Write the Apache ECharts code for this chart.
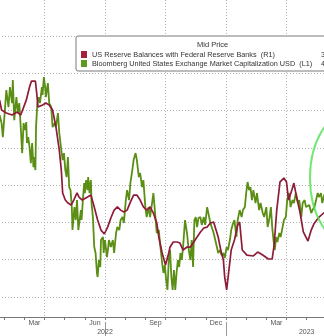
<!DOCTYPE html>
<html><head><meta charset="utf-8">
<script src="https://cdn.jsdelivr.net/npm/echarts@6/dist/echarts.min.js"></script>
<style>html,body{margin:0;padding:0;background:#fff}#c{width:324px;height:336px}</style>
</head><body><div id="c"></div>
<script>
// ---- data ----
const redName = 'US Reserve Balances with Federal Reserve Banks  (R1)';
const greenName = 'Bloomberg United States Exchange Market Capitalization USD  (L1)';
const redLast = '3.256T';
const greenLast = '44.47T';

const greenDates = ['2022-01-25','2022-01-28','2022-01-30','2022-02-02','2022-02-04','2022-02-07','2022-02-09','2022-02-12','2022-02-13','2022-02-15','2022-02-18','2022-02-20','2022-02-22','2022-02-24','2022-02-26','2022-02-28','2022-03-02','2022-03-04','2022-03-05','2022-03-07','2022-03-09','2022-03-11','2022-03-13','2022-03-15','2022-03-16','2022-03-18','2022-03-19','2022-03-21','2022-03-23','2022-03-25','2022-03-28','2022-03-29','2022-03-31','2022-04-02','2022-04-03','2022-04-06','2022-04-08','2022-04-11','2022-04-13','2022-04-16','2022-04-18','2022-04-21','2022-04-23','2022-04-26','2022-04-28','2022-04-30','2022-05-02','2022-05-04','2022-05-06','2022-05-08','2022-05-10','2022-05-12','2022-05-13','2022-05-16','2022-05-18','2022-05-20','2022-05-22','2022-05-23','2022-05-26','2022-05-27','2022-05-29','2022-05-31','2022-06-01','2022-06-03','2022-06-05','2022-06-06','2022-06-08','2022-06-10','2022-06-11','2022-06-13','2022-06-15','2022-06-17','2022-06-19','2022-06-20','2022-06-22','2022-06-24','2022-06-25','2022-06-28','2022-06-29','2022-07-01','2022-07-04','2022-07-06','2022-07-07','2022-07-10','2022-07-13','2022-07-15','2022-07-18','2022-07-20','2022-07-23','2022-07-25','2022-07-28','2022-07-30','2022-08-02','2022-08-04','2022-08-07','2022-08-09','2022-08-12','2022-08-14','2022-08-17','2022-08-19','2022-08-22','2022-08-24','2022-08-27','2022-08-29','2022-09-01','2022-09-03','2022-09-06','2022-09-08','2022-09-11','2022-09-13','2022-09-16','2022-09-18','2022-09-21','2022-09-23','2022-09-26','2022-09-28','2022-09-30','2022-10-02','2022-10-04','2022-10-06','2022-10-08','2022-10-10','2022-10-12','2022-10-14','2022-10-16','2022-10-18','2022-10-20','2022-10-22','2022-10-24','2022-10-26','2022-10-28','2022-10-31','2022-11-03','2022-11-05','2022-11-08','2022-11-10','2022-11-12','2022-11-14','2022-11-16','2022-11-18','2022-11-20','2022-11-23','2022-11-25','2022-11-28','2022-11-30','2022-12-03','2022-12-05','2022-12-08','2022-12-10','2022-12-13','2022-12-15','2022-12-18','2022-12-20','2022-12-23','2022-12-25','2022-12-28','2022-12-30','2023-01-02','2023-01-04','2023-01-07','2023-01-09','2023-01-12','2023-01-14','2023-01-17','2023-01-19','2023-01-22','2023-01-25','2023-01-27','2023-01-30','2023-02-01','2023-02-03','2023-02-05','2023-02-07','2023-02-09','2023-02-11','2023-02-14','2023-02-16','2023-02-19','2023-02-21','2023-02-24','2023-02-26','2023-03-01','2023-03-03','2023-03-06','2023-03-08','2023-03-10','2023-03-12','2023-03-14','2023-03-16','2023-03-18','2023-03-21','2023-03-23','2023-03-26','2023-03-28','2023-03-31','2023-04-02','2023-04-05','2023-04-07','2023-04-10','2023-04-12','2023-04-15','2023-04-18','2023-04-20','2023-04-23','2023-04-25','2023-04-28','2023-04-30','2023-05-03','2023-05-05','2023-05-08','2023-05-10','2023-05-13','2023-05-15','2023-05-18','2023-05-20','2023-05-23','2023-05-25','2023-05-28','2023-05-30'];
const greenValues = [49.70,49.16,48.22,50.03,51.37,50.23,51.57,50.50,52.04,49.36,50.90,49.83,50.50,48.89,47.15,49.16,48.69,49.23,47.82,48.22,47.55,46.48,47.82,46.21,46.88,46.01,48.89,50.50,50.90,50.50,51.57,51.04,52.24,51.57,50.90,51.84,50.50,50.23,48.89,49.16,48.89,49.83,48.49,47.35,46.68,47.15,46.01,45.54,46.88,44.87,44.67,43.53,41.99,43.53,42.66,44.00,41.99,42.12,43.33,42.66,44.00,45.14,44.47,45.34,44.67,45.54,44.47,45.34,43.80,42.86,40.85,40.45,39.11,38.84,39.98,39.51,41.32,41.52,40.45,41.32,40.18,40.85,41.32,40.85,41.32,40.45,41.79,42.19,41.99,42.66,42.86,42.46,44.00,44.67,44.00,45.14,46.01,46.68,47.15,46.68,45.54,45.81,44.87,45.34,43.53,42.86,43.53,42.86,43.80,44.47,42.86,41.79,41.99,41.05,39.78,39.11,39.64,38.64,37.97,39.98,40.65,38.84,37.97,39.31,37.97,39.11,39.98,39.51,40.45,39.98,40.85,42.66,41.79,40.85,39.98,41.32,39.51,42.66,42.86,42.19,42.79,42.86,42.33,42.86,42.33,43.53,43.53,42.46,42.19,41.79,41.79,40.85,40.45,40.65,40.31,40.45,40.11,40.85,40.65,41.32,41.99,42.46,42.66,41.52,42.66,43.33,42.86,43.33,43.53,44.47,45.21,44.67,44.87,44.00,44.67,43.80,44.47,43.33,43.80,43.13,42.86,43.53,42.19,42.86,43.53,42.19,41.32,40.65,41.52,41.19,41.79,41.52,42.19,42.66,42.86,44.00,44.47,43.53,44.00,43.80,44.47,43.80,44.00,42.86,43.80,44.00,43.53,43.53,43.67,43.13,43.33,43.53,43.53,44.47,44.20,44.47,43.80,44.34,44.47];

const redDates = ['2022-01-25','2022-01-28','2022-02-04','2022-02-12','2022-02-19','2022-02-24','2022-03-04','2022-03-09','2022-03-12','2022-03-18','2022-03-20','2022-03-22','2022-03-25','2022-03-29','2022-04-03','2022-04-08','2022-04-13','2022-04-18','2022-04-23','2022-04-26','2022-04-28','2022-05-02','2022-05-06','2022-05-11','2022-05-15','2022-05-20','2022-05-23','2022-05-28','2022-06-05','2022-06-10','2022-06-15','2022-06-20','2022-06-25','2022-06-30','2022-07-05','2022-07-10','2022-07-15','2022-07-20','2022-07-25','2022-07-30','2022-08-04','2022-08-09','2022-08-14','2022-08-19','2022-08-24','2022-08-29','2022-09-03','2022-09-08','2022-09-13','2022-09-18','2022-09-21','2022-09-26','2022-10-01','2022-10-03','2022-10-06','2022-10-08','2022-10-13','2022-10-19','2022-10-23','2022-10-28','2022-11-03','2022-11-08','2022-11-13','2022-11-18','2022-11-23','2022-11-28','2022-12-03','2022-12-08','2022-12-13','2022-12-15','2022-12-20','2022-12-23','2022-12-25','2022-12-28','2022-12-30','2023-01-02','2023-01-05','2023-01-09','2023-01-14','2023-01-19','2023-01-22','2023-01-26','2023-02-02','2023-02-11','2023-02-17','2023-02-24','2023-03-04','2023-03-10','2023-03-13','2023-03-17','2023-03-22','2023-03-28','2023-04-01','2023-04-04','2023-04-09','2023-04-12','2023-04-16','2023-04-21','2023-04-26','2023-05-03','2023-05-08','2023-05-12','2023-05-20','2023-05-29'];
const redValues = [3.856,3.803,3.787,3.776,3.792,3.776,3.856,3.926,3.958,3.958,3.894,3.819,3.813,3.830,3.840,3.830,3.803,3.712,3.588,3.481,3.358,3.320,3.304,3.293,3.320,3.358,3.336,3.320,3.336,3.347,3.283,3.213,3.159,3.138,3.175,3.224,3.266,3.283,3.266,3.256,3.266,3.309,3.347,3.347,3.320,3.283,3.266,3.283,3.250,3.197,3.122,3.036,2.972,2.982,3.036,3.068,3.095,3.095,3.090,3.052,3.068,3.068,3.095,3.122,3.149,3.170,3.175,3.197,3.202,3.197,3.122,3.068,3.036,2.998,2.907,2.838,2.929,3.052,3.106,3.186,3.202,3.052,3.025,3.020,3.041,3.025,3.004,3.004,3.079,3.266,3.417,3.438,3.417,3.320,3.374,3.411,3.336,3.256,3.149,3.100,3.159,3.191,3.229,3.256];

const monthLabels = {2.5:'Mar',5.5:'Jun',8.5:'Sep',11.5:'Dec',14.5:'Mar',17.5:'Jun'};
const yearLabels = {6:'2022',16:'2023'};

// ---- helpers ----
function monthIndex(s){
  const [y,m,d] = s.split('-').map(Number);
  const dim = new Date(y, m, 0).getDate();
  return (y-2022)*12 + (m-1) + (d-1)/dim;
}
const greenData = greenDates.map((d,i)=>[monthIndex(d), greenValues[i]]);
const redData = redDates.map((d,i)=>[monthIndex(d), redValues[i]]);

const FONT = 'Liberation Sans';
const RED = '#8e1b38', GREEN = '#5b8e14';
const gridDash = {color:'#b4b4b4', width:1, type:[1,2]};
const X0 = {min:0, max:18};

const chart = echarts.init(document.getElementById('c'), null, {renderer:'canvas'});
chart.setOption({
  animation:false,
  backgroundColor:'#fff',
  textStyle:{fontFamily:FONT},
  grid:[
    {left:-16, width:363, top:-1.3, height:335.6, outerBoundsMode:'none', containLabel:false},
    {left:-16, width:363, top:0, height:317, outerBoundsMode:'none', containLabel:false}
  ],
  xAxis:[
    Object.assign({type:'value', gridIndex:0, show:false}, X0),
    Object.assign({type:'value', gridIndex:1, position:'bottom', offset:0, interval:1,
      axisLine:{show:true, lineStyle:{color:'#777', width:1}},
      axisTick:{show:true, length:3, lineStyle:{color:'#777'}},
      axisLabel:{show:false}, splitLine:{show:false}}, X0),
    Object.assign({type:'value', gridIndex:1, position:'bottom', offset:0, interval:3,
      axisLine:{show:false}, axisTick:{show:false}, axisLabel:{show:false},
      splitLine:{show:true, lineStyle:gridDash}}, X0),
    Object.assign({type:'value', gridIndex:1, position:'bottom', offset:0, interval:0.5,
      axisLine:{show:false}, axisTick:{show:false}, splitLine:{show:false},
      axisLabel:{show:true, margin:3, fontSize:7, color:'#555', fontFamily:FONT,
        showMinLabel:true, showMaxLabel:true, hideOverlap:false,
        formatter:v=>monthLabels[v]||''}}, X0),
    Object.assign({type:'value', gridIndex:1, position:'bottom', offset:9, interval:1,
      axisLine:{show:false}, axisTick:{show:false}, splitLine:{show:false},
      axisLabel:{show:true, margin:3, fontSize:7, color:'#555', fontFamily:FONT,
        hideOverlap:false, formatter:v=>yearLabels[v]||''}}, X0),
    Object.assign({type:'value', gridIndex:1, position:'bottom', offset:5, interval:6,
      axisLine:{show:false}, axisLabel:{show:false}, splitLine:{show:false},
      axisTick:{show:true, length:14, lineStyle:{color:'#999'},
        interval:(i,v)=>v===12}}, X0)
  ],
  yAxis:[
    {type:'value', gridIndex:0, min:35, max:57.5, interval:2.5, position:'left',
      axisLine:{show:false}, axisTick:{show:false}, axisLabel:{show:false},
      splitLine:{show:true, showMinLine:false, showMaxLine:true, lineStyle:gridDash}},
    {type:'value', gridIndex:0, min:2.6, max:4.4, interval:0.2, position:'right',
      axisLine:{show:false}, axisTick:{show:false}, axisLabel:{show:false}, splitLine:{show:false}},
    {type:'value', gridIndex:1, show:false}
  ],
  title:{text:'Mid Price', left:197, top:41, padding:0,
    textStyle:{fontSize:7.5, fontWeight:'normal', color:'#333', fontFamily:FONT}},
  legend:{
    left:76, top:36, orient:'vertical', itemGap:2, itemWidth:6, itemHeight:7,
    icon:'rect', padding:[15,0,4,5], borderColor:'#7a7a7a', borderWidth:1, borderRadius:2,
    backgroundColor:'rgba(255,255,255,0.95)', selectedMode:false,
    data:[redName, greenName],
    textStyle:{fontSize:7.3, color:'#333', fontFamily:FONT, padding:[0,0,0,0],
      rich:{n:{width:229, fontSize:7.3, color:'#333', fontFamily:FONT}, v:{fontSize:7.3, color:'#333', fontFamily:FONT}}},
    formatter:name=>'{n|'+name+'}{v|'+(name===redName?redLast:greenLast)+'}'
  },
  series:[
    {name:greenName, type:'line', xAxisIndex:0, yAxisIndex:0, data:greenData,
      showSymbol:false, symbol:'none', lineStyle:{color:GREEN, width:1.8}, itemStyle:{color:'#5e9a1c'}, z:2},
    {name:redName, type:'line', xAxisIndex:0, yAxisIndex:1, data:redData,
      showSymbol:false, symbol:'none', lineStyle:{color:RED, width:1.7}, itemStyle:{color:'#a3213c'}, z:3}
  ],
  graphic:[
    {type:'ellipse', shape:{cx:350, cy:178, rx:40, ry:66}, silent:true, z:10,
      style:{fill:null, stroke:'rgba(80,225,80,0.8)', lineWidth:2}}
  ]
});
</script></body></html>
